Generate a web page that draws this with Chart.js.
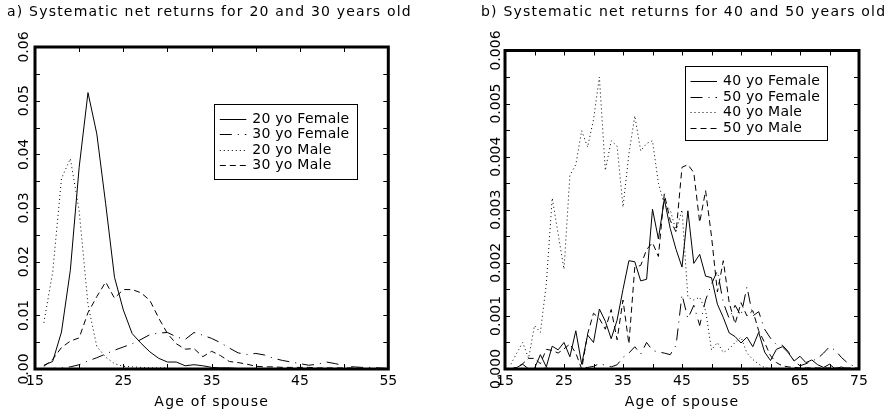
<!DOCTYPE html>
<html><head><meta charset="utf-8">
<script src="https://cdn.jsdelivr.net/npm/chart.js@4.4.0/dist/chart.umd.min.js"></script>
<style>
html,body{margin:0;padding:0;background:#fff;overflow:hidden;width:887px;height:415px;position:relative;}
canvas{position:absolute;top:0;}
#ca{left:0;}
#cb{left:478px;}
</style></head><body>
<canvas id="ca" width="478" height="415"></canvas>
<canvas id="cb" width="420" height="415"></canvas>
<script>
// ---------------- data ----------------
const titleA = 'a) Systematic net returns for 20 and 30 years old';
const titleB = 'b) Systematic net returns for 40 and 50 years old';
const axisTitle = 'Age of spouse';

const labelsA = ['20 yo Female', '30 yo Female', '20 yo Male', '30 yo Male'];
const labelsB = ['40 yo Female', '50 yo Female', '40 yo Male', '50 yo Male'];

const agesA = [16,17,18,19,20,21,22,23,24,25,26,27,28,29,30,31,32,33,34,35,
               36,37,38,39,40,41,42,43,44,45,46,47,48,49,50,51,52,53,54,55];
const f20 = [0.0007,0.0014,0.0069,0.0184,0.0376,0.0515,0.0438,0.0308,0.0171,0.0110,
             0.0066,0.0048,0.0032,0.0020,0.0013,0.0013,0.0006,0.0008,0.0006,0.0003,
             0.0002,0.0002,0.0001,0.0001,0.0001,0.0001,0.0001,0.0001,0.0001,0.0001,
             0.0001,0.0001,0.0000,0.0001,0.0000,0.0000,0.0000,0.0000,0.0000,0.0000];
const f30 = [0.0001,0.0001,0.0002,0.0004,0.0008,0.0015,0.0021,0.0028,0.0035,0.0041,
             0.0047,0.0055,0.0064,0.0067,0.0068,0.0060,0.0055,0.0068,0.0063,0.0057,
             0.0049,0.0039,0.0030,0.0027,0.0029,0.0026,0.0020,0.0016,0.0013,0.0010,
             0.0007,0.0009,0.0013,0.0010,0.0006,0.0004,0.0003,0.0003,0.0002,0.0001];
const m20 = [0.0086,0.0180,0.0355,0.0392,0.0295,0.0120,0.0042,0.0022,0.0010,0.0005,
             0.0004,0.0003,0.0002,0.0002,0.0002];
const m30 = [0.0005,0.0018,0.0040,0.0052,0.0058,0.0105,0.0135,0.0162,0.0132,0.0148,
             0.0148,0.0142,0.0128,0.0095,0.0066,0.0047,0.0037,0.0038,0.0023,0.0033,
             0.0025,0.0014,0.0012,0.0009,0.0005,0.0004,0.0004,0.0003,0.0003,0.0003,
             0.0003,0.0002,0.0002,0.0002,0.0002,0.0002,0.0001,0.0001,0.0001,0.0001];

const agesB = [16,17,18,19,20,21,22,23,24,25,26,27,28,29,30,31,32,33,34,35,
               36,37,38,39,40,41,42,43,44,45,46,47,48,49,50,51,52,53,54,55,
               56,57,58,59,60,61,62,63,64,65,66,67,68,69,70,71,72,73,74,75];
const f40 = [0.00000,0.00003,0.00009,0.00000,0.00001,0.00027,0.00004,0.00043,0.00036,0.00050,
             0.00023,0.00072,0.00009,0.00064,0.00050,0.00113,0.00090,0.00057,0.00092,0.00150,
             0.00204,0.00202,0.00166,0.00169,0.00301,0.00245,0.00320,0.00265,0.00225,0.00192,
             0.00298,0.00199,0.00216,0.00175,0.00172,0.00122,0.00097,0.00068,0.00061,0.00049,
             0.00060,0.00042,0.00069,0.00032,0.00016,0.00037,0.00042,0.00031,0.00015,0.00024,
             0.00012,0.00017,0.00008,0.00003,0.00009,0.00000,0.00004,0.00000,0.00000,0.00000];
const f50 = [0.00000,0.00000,0.00000,0.00000,0.00000,0.00000,0.00002,0.00001,0.00000,0.00000,
             0.00000,0.00001,0.00002,0.00003,0.00005,0.00010,0.00007,0.00004,0.00008,0.00022,
             0.00030,0.00042,0.00028,0.00050,0.00035,0.00032,0.00030,0.00027,0.00045,0.00140,
             0.00095,0.00120,0.00082,0.00130,0.00160,0.00185,0.00125,0.00095,0.00120,0.00100,
             0.00155,0.00100,0.00108,0.00075,0.00058,0.00046,0.00045,0.00033,0.00016,0.00006,
             0.00010,0.00015,0.00020,0.00030,0.00042,0.00035,0.00022,0.00012,0.00006,0.00000];
const m40 = [0.00009,0.00030,0.00050,0.00020,0.00082,0.00069,0.00160,0.00322,0.00255,0.00188,
             0.00365,0.00385,0.00449,0.00418,0.00470,0.00550,0.00374,0.00430,0.00420,0.00305,
             0.00405,0.00477,0.00411,0.00425,0.00430,0.00350,0.00310,0.00300,0.00260,0.00300,
             0.00135,0.00130,0.00135,0.00110,0.00036,0.00050,0.00031,0.00038,0.00050,0.00060,
             0.00030,0.00018,0.00009,0.00003,0.00000];
const m50 = [0.00000,0.00003,0.00010,0.00020,0.00020,0.00010,0.00037,0.00035,0.00030,0.00038,
             0.00047,0.00030,0.00000,0.00066,0.00105,0.00095,0.00075,0.00112,0.00055,0.00130,
             0.00047,0.00192,0.00195,0.00225,0.00238,0.00212,0.00330,0.00280,0.00258,0.00380,
             0.00385,0.00370,0.00276,0.00336,0.00250,0.00145,0.00204,0.00125,0.00085,0.00125,
             0.00100,0.00110,0.00072,0.00050,0.00025,0.00012,0.00006,0.00004,0.00003,0.00002,
             0.00002,0.00002,0.00002,0.00002,0.00002,0.00002,0.00002,0.00002,0.00002,0.00002];

const xTicksA = [15, 25, 35, 45, 55];
const xTicksB = [15, 25, 35, 45, 55, 65, 75];
const yTicksA = [0, 0.01, 0.02, 0.03, 0.04, 0.05, 0.06];
const yLabelsA = ['0.00', '0.01', '0.02', '0.03', '0.04', '0.05', '0.06'];
const yTicksB = [0, 0.001, 0.002, 0.003, 0.004, 0.005, 0.006];
const yLabelsB = ['0.000', '0.001', '0.002', '0.003', '0.004', '0.005', '0.006'];

// ---------------- styles ----------------
const FONT = 'DejaVu Sans';
const DASH = { solid: [], dashDot: [12, 6, 1, 6], dot: [1, 3], dash: [6, 4] };

function pts(ages, vals) { return vals.map((v, i) => ({ x: ages[i], y: v })); }
function ds(label, ages, vals, dash) {
  return { label, data: pts(ages, vals), borderColor: '#000', borderWidth: 1,
           borderDash: dash, pointRadius: 0, tension: 0, fill: false };
}

function panelPlugin(p) {
  return {
    id: 'panel',
    beforeDraw(chart) { chart.ctx.letterSpacing = '1.2px'; },
    beforeDatasetsDraw(chart) { chart.ctx.letterSpacing = '0px'; },
    afterDraw(chart) {
      const ctx = chart.ctx, a = chart.chartArea;
      const xs = chart.scales.x, ys = chart.scales.y;
      ctx.save();
      ctx.letterSpacing = '0px';
      ctx.setLineDash([]);
      ctx.strokeStyle = '#000';
      // inside ticks
      ctx.lineWidth = 1;
      ctx.beginPath();
      for (let v = p.xMin; v <= p.xMax + 1e-9; v += p.xMinor) {
        const px = Math.round(xs.getPixelForValue(v)) + 0.5;
        ctx.moveTo(px, a.bottom); ctx.lineTo(px, a.bottom - 5);
        ctx.moveTo(px, a.top); ctx.lineTo(px, a.top + 5);
      }
      for (let k = 0; k <= p.yCount; k++) {
        const v = k * p.yMinor;
        const py = Math.round(ys.getPixelForValue(v)) + 0.5;
        ctx.moveTo(a.left, py); ctx.lineTo(a.left + 5, py);
        ctx.moveTo(a.right, py); ctx.lineTo(a.right - 5, py);
      }
      ctx.stroke();
      // frame
      ctx.lineWidth = 3;
      ctx.strokeRect(a.left, a.top, a.right - a.left, a.bottom - a.top);
      // rotated y tick labels
      ctx.fillStyle = '#000';
      ctx.font = '14px "' + FONT + '"';
      ctx.textAlign = 'center';
      ctx.textBaseline = 'alphabetic';
      p.yTicks.forEach((v, i) => {
        const py = ys.getPixelForValue(v);
        ctx.save();
        ctx.translate(a.left - p.yLabelGap, py);
        ctx.rotate(-Math.PI / 2);
        ctx.fillText(p.yLabels[i], 0, 0);
        ctx.restore();
      });
      // legend box
      const L = p.legend;
      const bx = a.left + L.dx, by = a.top + L.dy;
      ctx.lineWidth = 1;
      ctx.strokeRect(Math.round(bx) + 0.5, Math.round(by) + 0.5, L.w, L.h);
      ctx.textAlign = 'left';
      ctx.textBaseline = 'middle';
      ctx.letterSpacing = '0.25px';
      chart.data.datasets.forEach((d, i) => {
        const y = Math.round(by + L.row0 + i * L.rowH) + 0.5;
        ctx.setLineDash(d.borderDash);
        ctx.beginPath();
        ctx.moveTo(bx + 5.5, y); ctx.lineTo(bx + 32, y);
        ctx.stroke();
        ctx.setLineDash([]);
        ctx.fillText(d.label, bx + 38, y);
      });
      ctx.restore();
    }
  };
}

function makeChart(id, c) {
  return new Chart(document.getElementById(id), {
    type: 'line',
    data: { datasets: c.datasets },
    options: {
      responsive: false, animation: false, devicePixelRatio: 1,
      layout: { padding: { left: c.padLeft, right: 0, top: 0, bottom: 0 } },
      plugins: {
        legend: { display: false },
        tooltip: { enabled: false },
        title: { display: true, text: c.title, align: 'start', color: '#000',
                 font: { family: FONT, size: 14, weight: 'normal' },
                 padding: { top: 3.6, bottom: c.titleBottom } }
      },
      scales: {
        x: {
          type: 'linear', position: 'bottom', min: c.xMin, max: c.xMax,
          grid: { display: false, drawTicks: false }, border: { display: false },
          afterBuildTicks: (s) => { s.ticks = c.xTicks.map(v => ({ value: v })); },
          afterFit: (s) => { s.height = 46; },
          ticks: { z: 1, color: '#000', padding: 3.6, maxRotation: 0, autoSkip: false,
                   font: { family: FONT, size: 14 } },
          title: { display: true, text: axisTitle, color: '#000',
                   font: { family: FONT, size: 14 }, padding: { top: 0, bottom: 3.9 } }
        },
        y: {
          type: 'linear', position: 'left', min: 0, max: c.yMax,
          grid: { display: false, drawTicks: false }, border: { display: false },
          ticks: { display: false },
          afterFit: (s) => { s.width = c.yLeftW; }
        },
        y2: {
          type: 'linear', position: 'right', display: true,
          grid: { display: false, drawTicks: false }, border: { display: false },
          ticks: { display: false },
          afterFit: (s) => { s.width = c.yRightW; }
        }
      }
    },
    plugins: [panelPlugin(c.panel)]
  });
}

makeChart('ca', {
  title: titleA, padLeft: 7, titleBottom: 26.6, yLeftW: 28, yRightW: 89.7,
  xMin: 15, xMax: 55, yMax: 0.06, xTicks: xTicksA,
  datasets: [
    ds(labelsA[0], agesA, f20, DASH.solid),
    ds(labelsA[1], agesA, f30, DASH.dashDot),
    ds(labelsA[2], agesA, m20, DASH.dot),
    ds(labelsA[3], agesA, m30, DASH.dash)
  ],
  panel: { xMin: 15, xMax: 55, xMinor: 5, yMinor: 0.005, yCount: 12,
           yTicks: yTicksA, yLabels: yLabelsA, yLabelGap: 7.5,
           legend: { dx: 179.3, dy: 57.3, w: 143, h: 75, row0: 14.7, rowH: 15.3 } }
});

makeChart('cb', {
  title: titleB, padLeft: 3, titleBottom: 30.1, yLeftW: 24, yRightW: 39,
  xMin: 15, xMax: 75, yMax: 0.006, xTicks: xTicksB,
  datasets: [
    ds(labelsB[0], agesB, f40, DASH.solid),
    ds(labelsB[1], agesB, f50, DASH.dashDot),
    ds(labelsB[2], agesB, m40, DASH.dot),
    ds(labelsB[3], agesB, m50, DASH.dash)
  ],
  panel: { xMin: 15, xMax: 75, xMinor: 5, yMinor: 0.0005, yCount: 12,
           yTicks: yTicksB, yLabels: yLabelsB, yLabelGap: 5.5,
           legend: { dx: 180, dy: 15.2, w: 142, h: 74, row0: 15.3, rowH: 15.5 } }
});
</script>
</body></html>
